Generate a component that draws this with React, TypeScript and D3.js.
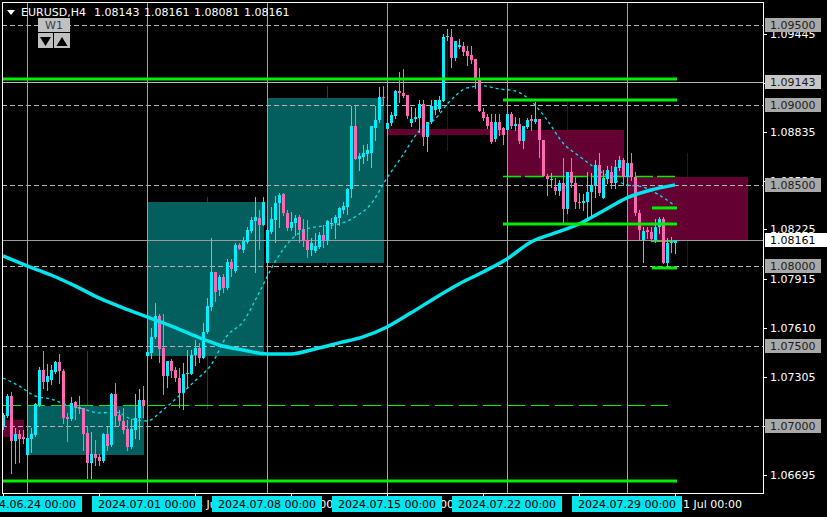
import React from 'react';
import * as d3 from 'd3';

const symbolTitle = 'EURUSD,H4';
const headerValues = ['1.08143', '1.08161', '1.08081', '1.08161'];

const opens = [1.06994,1.07063,1.07187,1.06907,1.06950,1.06932,1.06819,1.06919,1.06944,1.07131,1.07349,1.07274,1.07287,1.07337,1.07399,1.07343,1.07056,1.07044,1.07150,1.07119,1.07112,1.06957,1.06770,1.06826,1.06807,1.06782,1.06950,1.06882,1.07200,1.07069,1.07031,1.06981,1.06869,1.06975,1.07050,1.07162,1.07437,1.07455,1.07555,1.07686,1.07486,1.07312,1.07405,1.07349,1.07299,1.07206,1.07324,1.07324,1.07443,1.07486,1.07424,1.07586,1.07742,1.07960,1.07848,1.07929,1.07860,1.08023,1.07966,1.08129,1.08097,1.08147,1.08216,1.08278,1.08297,1.08253,1.08016,1.08210,1.08284,1.08390,1.08446,1.08328,1.08234,1.08266,1.08303,1.08228,1.08160,1.08097,1.08091,1.08116,1.08191,1.08153,1.08259,1.08266,1.08297,1.08347,1.08365,1.08478,1.08870,1.08665,1.08677,1.08696,1.08702,1.08858,1.08908,1.09051,1.08852,1.08889,1.08933,1.09089,1.09076,1.09064,1.08889,1.08914,1.08920,1.09008,1.08802,1.08895,1.08970,1.08976,1.09026,1.09425,1.09425,1.09294,1.09363,1.09369,1.09338,1.09313,1.09288,1.09157,1.08958,1.08926,1.08895,1.08789,1.08895,1.08858,1.08845,1.08945,1.08870,1.08883,1.08777,1.08864,1.08914,1.08895,1.08914,1.08783,1.08559,1.08534,1.08490,1.08465,1.08515,1.08353,1.08584,1.08515,1.08397,1.08390,1.08397,1.08459,1.08503,1.08627,1.08422,1.08540,1.08584,1.08515,1.08609,1.08658,1.08552,1.08640,1.08552,1.08328,1.08160,1.08222,1.08210,1.08160,1.08241,1.08291,1.08016,1.08141,1.08143];
const highs = [1.07081,1.07200,1.07212,1.06988,1.06975,1.06975,1.06938,1.06988,1.07144,1.07368,1.07468,1.07387,1.07380,1.07405,1.07449,1.07356,1.07081,1.07181,1.07156,1.07187,1.07112,1.07000,1.06963,1.06913,1.06826,1.06957,1.06994,1.07206,1.07268,1.07100,1.07112,1.07038,1.07044,1.07200,1.07231,1.07250,1.07474,1.07611,1.07767,1.07698,1.07698,1.07405,1.07418,1.07368,1.07362,1.07393,1.07474,1.07474,1.07536,1.07518,1.07642,1.07798,1.08172,1.07960,1.07941,1.07948,1.08041,1.08041,1.08141,1.08141,1.08178,1.08241,1.08303,1.08428,1.08347,1.08428,1.08234,1.08365,1.08434,1.08453,1.08453,1.08347,1.08334,1.08316,1.08316,1.08291,1.08284,1.08172,1.08203,1.08210,1.08253,1.08284,1.08297,1.08316,1.08365,1.08397,1.08484,1.08995,1.08995,1.08702,1.08752,1.08758,1.08870,1.08995,1.09113,1.09120,1.08908,1.08958,1.09095,1.09207,1.09226,1.09064,1.08989,1.08983,1.09032,1.09032,1.08895,1.09032,1.09032,1.09057,1.09444,1.09475,1.09475,1.09400,1.09413,1.09394,1.09369,1.09369,1.09288,1.09232,1.08983,1.08945,1.08945,1.08945,1.08945,1.08864,1.08958,1.08958,1.08926,1.08920,1.08870,1.08920,1.08939,1.09020,1.08914,1.08783,1.08571,1.08577,1.08546,1.08534,1.08671,1.08584,1.08671,1.08552,1.08453,1.08446,1.08584,1.08577,1.08658,1.08702,1.08596,1.08621,1.08621,1.08658,1.08683,1.08671,1.08690,1.08702,1.08584,1.08347,1.08241,1.08241,1.08241,1.08291,1.08303,1.08303,1.08172,1.08178,1.08161];
const lows = [1.06981,1.07056,1.06707,1.06770,1.06776,1.06894,1.06807,1.06838,1.06938,1.07125,1.07237,1.07225,1.07262,1.07331,1.07268,1.07019,1.06907,1.07038,1.07044,1.07081,1.06851,1.06676,1.06676,1.06757,1.06757,1.06776,1.06851,1.06875,1.07006,1.07006,1.06957,1.06851,1.06863,1.06925,1.06919,1.07056,1.07424,1.07424,1.07549,1.07399,1.07200,1.07243,1.07306,1.07281,1.07119,1.07106,1.07237,1.07324,1.07380,1.07399,1.07424,1.07580,1.07723,1.07779,1.07817,1.07836,1.07854,1.07935,1.07960,1.08104,1.08085,1.08141,1.08210,1.07960,1.08104,1.08253,1.08004,1.08203,1.08147,1.08241,1.08316,1.08222,1.08222,1.08191,1.08147,1.08122,1.08054,1.08066,1.08085,1.08110,1.08116,1.08135,1.08234,1.08172,1.08253,1.08328,1.08322,1.08428,1.08665,1.08596,1.08640,1.08658,1.08615,1.08783,1.08895,1.09001,1.08839,1.08877,1.08920,1.09020,1.09051,1.08920,1.08870,1.08902,1.08833,1.08752,1.08715,1.08889,1.08945,1.08964,1.09026,1.09406,1.09238,1.09282,1.09357,1.09313,1.09251,1.09263,1.09107,1.08964,1.08908,1.08858,1.08764,1.08777,1.08814,1.08758,1.08839,1.08858,1.08845,1.08764,1.08733,1.08858,1.08845,1.08889,1.08677,1.08559,1.08440,1.08490,1.08446,1.08440,1.08266,1.08328,1.08490,1.08359,1.08359,1.08347,1.08297,1.08316,1.08428,1.08440,1.08422,1.08515,1.08484,1.08484,1.08596,1.08503,1.08534,1.08534,1.08316,1.08160,1.08023,1.08172,1.08160,1.08147,1.08203,1.08016,1.07991,1.08085,1.08081];
const closes = [1.07069,1.07187,1.06907,1.06950,1.06919,1.06919,1.06925,1.06950,1.07137,1.07349,1.07274,1.07312,1.07349,1.07399,1.07343,1.07050,1.07044,1.07144,1.07112,1.07106,1.06950,1.06770,1.06826,1.06801,1.06782,1.06950,1.06875,1.07200,1.07063,1.07031,1.06975,1.06869,1.06981,1.07050,1.07162,1.07125,1.07461,1.07555,1.07686,1.07480,1.07312,1.07405,1.07343,1.07299,1.07206,1.07324,1.07331,1.07443,1.07486,1.07424,1.07586,1.07748,1.07960,1.07836,1.07929,1.07860,1.08023,1.07979,1.08129,1.08104,1.08153,1.08222,1.08284,1.08303,1.08253,1.08397,1.08222,1.08291,1.08390,1.08440,1.08328,1.08234,1.08272,1.08297,1.08222,1.08153,1.08097,1.08141,1.08122,1.08191,1.08153,1.08278,1.08266,1.08303,1.08359,1.08372,1.08478,1.08870,1.08665,1.08683,1.08702,1.08721,1.08870,1.08908,1.09051,1.09045,1.08889,1.08939,1.09089,1.09076,1.09057,1.08933,1.08914,1.08926,1.09008,1.08802,1.08895,1.08995,1.09032,1.09032,1.09425,1.09431,1.09294,1.09400,1.09375,1.09332,1.09307,1.09282,1.09157,1.08964,1.08920,1.08870,1.08771,1.08895,1.08845,1.08814,1.08945,1.08870,1.08883,1.08777,1.08870,1.08908,1.08902,1.08914,1.08783,1.08559,1.08540,1.08540,1.08465,1.08515,1.08353,1.08584,1.08515,1.08397,1.08390,1.08403,1.08459,1.08503,1.08627,1.08453,1.08546,1.08596,1.08515,1.08615,1.08658,1.08552,1.08640,1.08552,1.08328,1.08222,1.08216,1.08210,1.08166,1.08241,1.08291,1.08016,1.08141,1.08147,1.08161];

// moving averages (slow every 6 bars, fast every 4 bars)
const slowMAStep = 6;
const slowMA = [1.08060,1.07998,1.07941,1.07873,1.07798,1.07736,1.07680,1.07624,1.07561,1.07505,1.07474,1.07449,1.07449,1.07480,1.07518,1.07555,1.07617,1.07705,1.07798,1.07885,1.07960,1.08041,1.08147,1.08203,1.08259,1.08340,1.08422,1.08471,1.08503];
const fastMAStep = 4;
const fastMA = [1.07299,1.07250,1.07187,1.07168,1.07131,1.07106,1.07081,1.07087,1.07044,1.07031,1.07100,1.07187,1.07281,1.07380,1.07561,1.07649,1.07829,1.08023,1.08160,1.08228,1.08247,1.08259,1.08303,1.08384,1.08546,1.08690,1.08839,1.08914,1.09032,1.09107,1.09120,1.09101,1.09089,1.09026,1.08908,1.08764,1.08683,1.08609,1.08546,1.08503,1.08490,1.08440,1.08372];

// weekly candles overlay
const weekStartBars = [-24, 6, 36, 66, 96, 126, 156];
const weekEndBars = [5, 35, 65, 95, 125, 155, 186];
const weekOpens = [1.07038, 1.06819, 1.07437, 1.08016, 1.08852, 1.08845, 1.08552];
const weekCloses = [1.06932, 1.07125, 1.08397, 1.09045, 1.08814, 1.08552, 1.08161];
const weekHighs = [NaN, 1.07468, 1.08428, 1.09120, 1.09475, 1.09020, 1.08702];
const weekLows = [NaN, 1.06676, 1.07106, 1.08004, 1.08715, 1.08266, 1.07991];
const weekLabels = ['', '2024.06.24 00:00', '2024.07.01 00:00', '2024.07.08 00:00', '2024.07.15 00:00', '2024.07.22 00:00', '2024.07.29 00:00'];

const timeTickBars = [0, 24, 48, 72, 96, 120, 144, 168];
const timeTickLabels = ['21 Jun 2024', '27 Jun 00:00', '3 Jul 00:00', '9 Jul 00:00', '15 Jul 00:00', '19 Jul 00:00', '25 Jul 00:00', '31 Jul 00:00'];

const priceTicks = [1.09445, 1.0914, 1.08835, 1.0853, 1.08225, 1.07915, 1.0761, 1.07305, 1.07, 1.06695];
const roundLevels = [1.095, 1.09, 1.085, 1.08, 1.075, 1.07];
const markLevel = 1.09143;

const greenLevels = [1.09163, 1.09032, 1.08559, 1.08259, 1.08359, 1.07985, 1.08153, 1.06657, 1.07131];
const greenFrom = [0, 125, 125, 125, 162.25, 162.25, 162, 0, 0];
const greenTo = [168.5, 168.5, 168.5, 168.5, 168.5, 168.5, 168.5, 168.5, 166.25];
const greenKinds = ['thick', 'thick', 'thin', 'thick', 'thick', 'thick', 'hair', 'thick', 'dash'];

const FONT = 'DejaVu Sans, Verdana, sans-serif';
const BULL = '#00f0ff';
const BEAR = '#ff69b4';
const CYAN = '#00e5ee';
const GREEN = '#00ee00';

export default function App() {
  const x = d3.scaleLinear().domain([0, 190]).range([3, 763]);
  const y = d3.scaleLinear().domain([1.06582, 1.09643]).range([493, 2]);
  const px = (i: number) => Math.round(x(i));
  const py = (v: number) => Math.round(y(v));
  const fmt = d3.format('.5f');
  const bid = closes[closes.length - 1];

  const slowLine = d3.line<number>().x((_, i) => x(i * slowMAStep)).y(d => y(d)).curve(d3.curveMonotoneX);
  const fastLine = d3.line<number>().x((_, i) => x(i * fastMAStep)).y(d => y(d)).curve(d3.curveMonotoneX);

  const greenStyle: Record<string, { w: number; dash?: string }> = {
    thick: { w: 3 }, thin: { w: 1.5, dash: '18,4' }, hair: { w: 1 }, dash: { w: 1, dash: '18,6' },
  };

  return (
    <svg width={827} height={517} style={{ position: 'fixed', left: 0, top: 0, display: 'block', background: '#000' }}>
      <defs>
        <clipPath id="plot"><rect x={2} y={2} width={761} height={491} /></clipPath>
      </defs>
      <rect x={0} y={0} width={827} height={517} fill="#000" />
      <g clipPath="url(#plot)">
        {weekStartBars.map((s, k) => isNaN(weekHighs[k]) ? null : (
          <line key={'ww' + k} x1={px(s + 15) + 0.5} x2={px(s + 15) + 0.5} y1={py(weekHighs[k])} y2={py(weekLows[k])}
            stroke={weekCloses[k] >= weekOpens[k] ? '#0b4848' : '#4a0424'} strokeWidth={1} />
        ))}
        {weekStartBars.map((s, k) => {
          const top = py(Math.max(weekOpens[k], weekCloses[k]));
          const bot = py(Math.min(weekOpens[k], weekCloses[k]));
          return <rect key={'wb' + k} x={px(s)} y={top} width={px(weekEndBars[k]) - px(s) + 1} height={Math.max(1, bot - top)}
            fill={weekCloses[k] >= weekOpens[k] ? '#035e5e' : '#650033'} />;
        })}
        {roundLevels.map(v => (
          <line key={'rl' + v} x1={2} x2={763} y1={py(v) + 0.5} y2={py(v) + 0.5} stroke="#b4b4b4" strokeDasharray="5,3" />
        ))}
        <line x1={2} x2={763} y1={py(markLevel) + 0.5} y2={py(markLevel) + 0.5} stroke="#b8b8b8" />
        <line x1={2} x2={763} y1={py(bid) + 0.5} y2={py(bid) + 0.5} stroke="#9a9a9a" />
        {weekStartBars.slice(1).map(s => (
          <line key={'ws' + s} x1={px(s) + 0.5} x2={px(s) + 0.5} y1={2} y2={493} stroke={CYAN} />
        ))}
        {greenLevels.map((v, k) => greenKinds[k] === 'thick' ? null : (
          <line key={'gb' + k} x1={x(greenFrom[k])} x2={x(greenTo[k])} y1={py(v) + 0.5} y2={py(v) + 0.5}
            stroke={GREEN} strokeWidth={greenStyle[greenKinds[k]].w} strokeDasharray={greenStyle[greenKinds[k]].dash} />
        ))}
        {opens.map((o, i) => {
          const c = closes[i];
          const bull = c >= o;
          const col = bull ? BULL : BEAR;
          const cx = px(i);
          const t = py(Math.max(o, c));
          const b = py(Math.min(o, c));
          return (
            <g key={'c' + i}>
              <line x1={cx + 0.5} x2={cx + 0.5} y1={py(highs[i])} y2={py(lows[i]) + 1} stroke={col} />
              <rect x={cx - 1} y={t} width={3} height={Math.max(1, b - t)} fill={col} />
            </g>
          );
        })}
        <path d={fastLine(fastMA) || ''} fill="none" stroke={CYAN} strokeWidth={1.3} strokeDasharray="3,3" />
        <path d={slowLine(slowMA) || ''} fill="none" stroke={CYAN} strokeWidth={3.5} />
        {greenLevels.map((v, k) => greenKinds[k] !== 'thick' ? null : (
          <line key={'gf' + k} x1={x(greenFrom[k])} x2={x(greenTo[k])} y1={y(v)} y2={y(v)} stroke={GREEN} strokeWidth={3} />
        ))}
      </g>

      <rect x={2.5} y={2.5} width={761} height={491} fill="none" stroke="#fff" />

      {priceTicks.map(v => (
        <g key={'pt' + v}>
          <line x1={763} x2={767} y1={py(v) + 0.5} y2={py(v) + 0.5} stroke="#fff" />
          <text x={770} y={py(v) + 4} fill="#fff" fontFamily={FONT} fontSize={11}>{fmt(v)}</text>
        </g>
      ))}
      {roundLevels.map(v => (
        <g key={'rb' + v}>
          <rect x={765} y={py(v) - 7} width={56} height={14} fill="#a9a9a9" />
          <text x={770} y={py(v) + 4} fill="#1c1c1c" fontFamily={FONT} fontSize={11}>{fmt(v)}</text>
        </g>
      ))}
      <rect x={765} y={py(markLevel) - 7} width={56} height={14} fill="#c6c6c6" />
      <text x={770} y={py(markLevel) + 4} fill="#1c1c1c" fontFamily={FONT} fontSize={11}>{fmt(markLevel)}</text>
      <rect x={765} y={py(bid) - 7} width={62} height={14} fill="#ffffff" />
      <text x={770} y={py(bid) + 4} fill="#000" fontFamily={FONT} fontSize={11}>{fmt(bid)}</text>

      {timeTickBars.map((b, k) => (
        <g key={'tt' + b}>
          <line x1={px(b) + 0.5} x2={px(b) + 0.5} y1={493} y2={498} stroke="#fff" />
          <text x={px(b) + 1} y={508} fill="#fff" fontFamily={FONT} fontSize={11}>{timeTickLabels[k]}</text>
        </g>
      ))}
      {weekStartBars.map((s, k) => weekLabels[k] === '' ? null : (
        <g key={'wl' + k}>
          <rect x={px(s) - 55} y={496} width={110} height={16} fill={CYAN} />
          <text x={px(s)} y={508} fill="#000" fontFamily={FONT} fontSize={11} textAnchor="middle">{weekLabels[k]}</text>
        </g>
      ))}

      <path d="M7,10 L15,10 L11,15 Z" fill="#fff" />
      <text x={21} y={16} fill="#fff" fontFamily={FONT} fontSize={11}>{symbolTitle}</text>
      {headerValues.map((v, k) => (
        <text key={'hv' + k} x={94 + k * 50} y={16} fill="#fff" fontFamily={FONT} fontSize={11}>{v}</text>
      ))}
      <rect x={38} y={18} width={32} height={14} fill="#c0c0c0" />
      <text x={54} y={29} fill="#3a3a5a" fontFamily={FONT} fontSize={11} textAnchor="middle">W1</text>
      <rect x={38} y={33} width={15} height={15} fill="#c0c0c0" />
      <rect x={54} y={33} width={16} height={15} fill="#c0c0c0" />
      <path d="M40,37 L51,37 L45.5,46 Z" fill="#000" />
      <path d="M56.5,46 L67.5,46 L62,37 Z" fill="#000" />
    </svg>
  );
}
